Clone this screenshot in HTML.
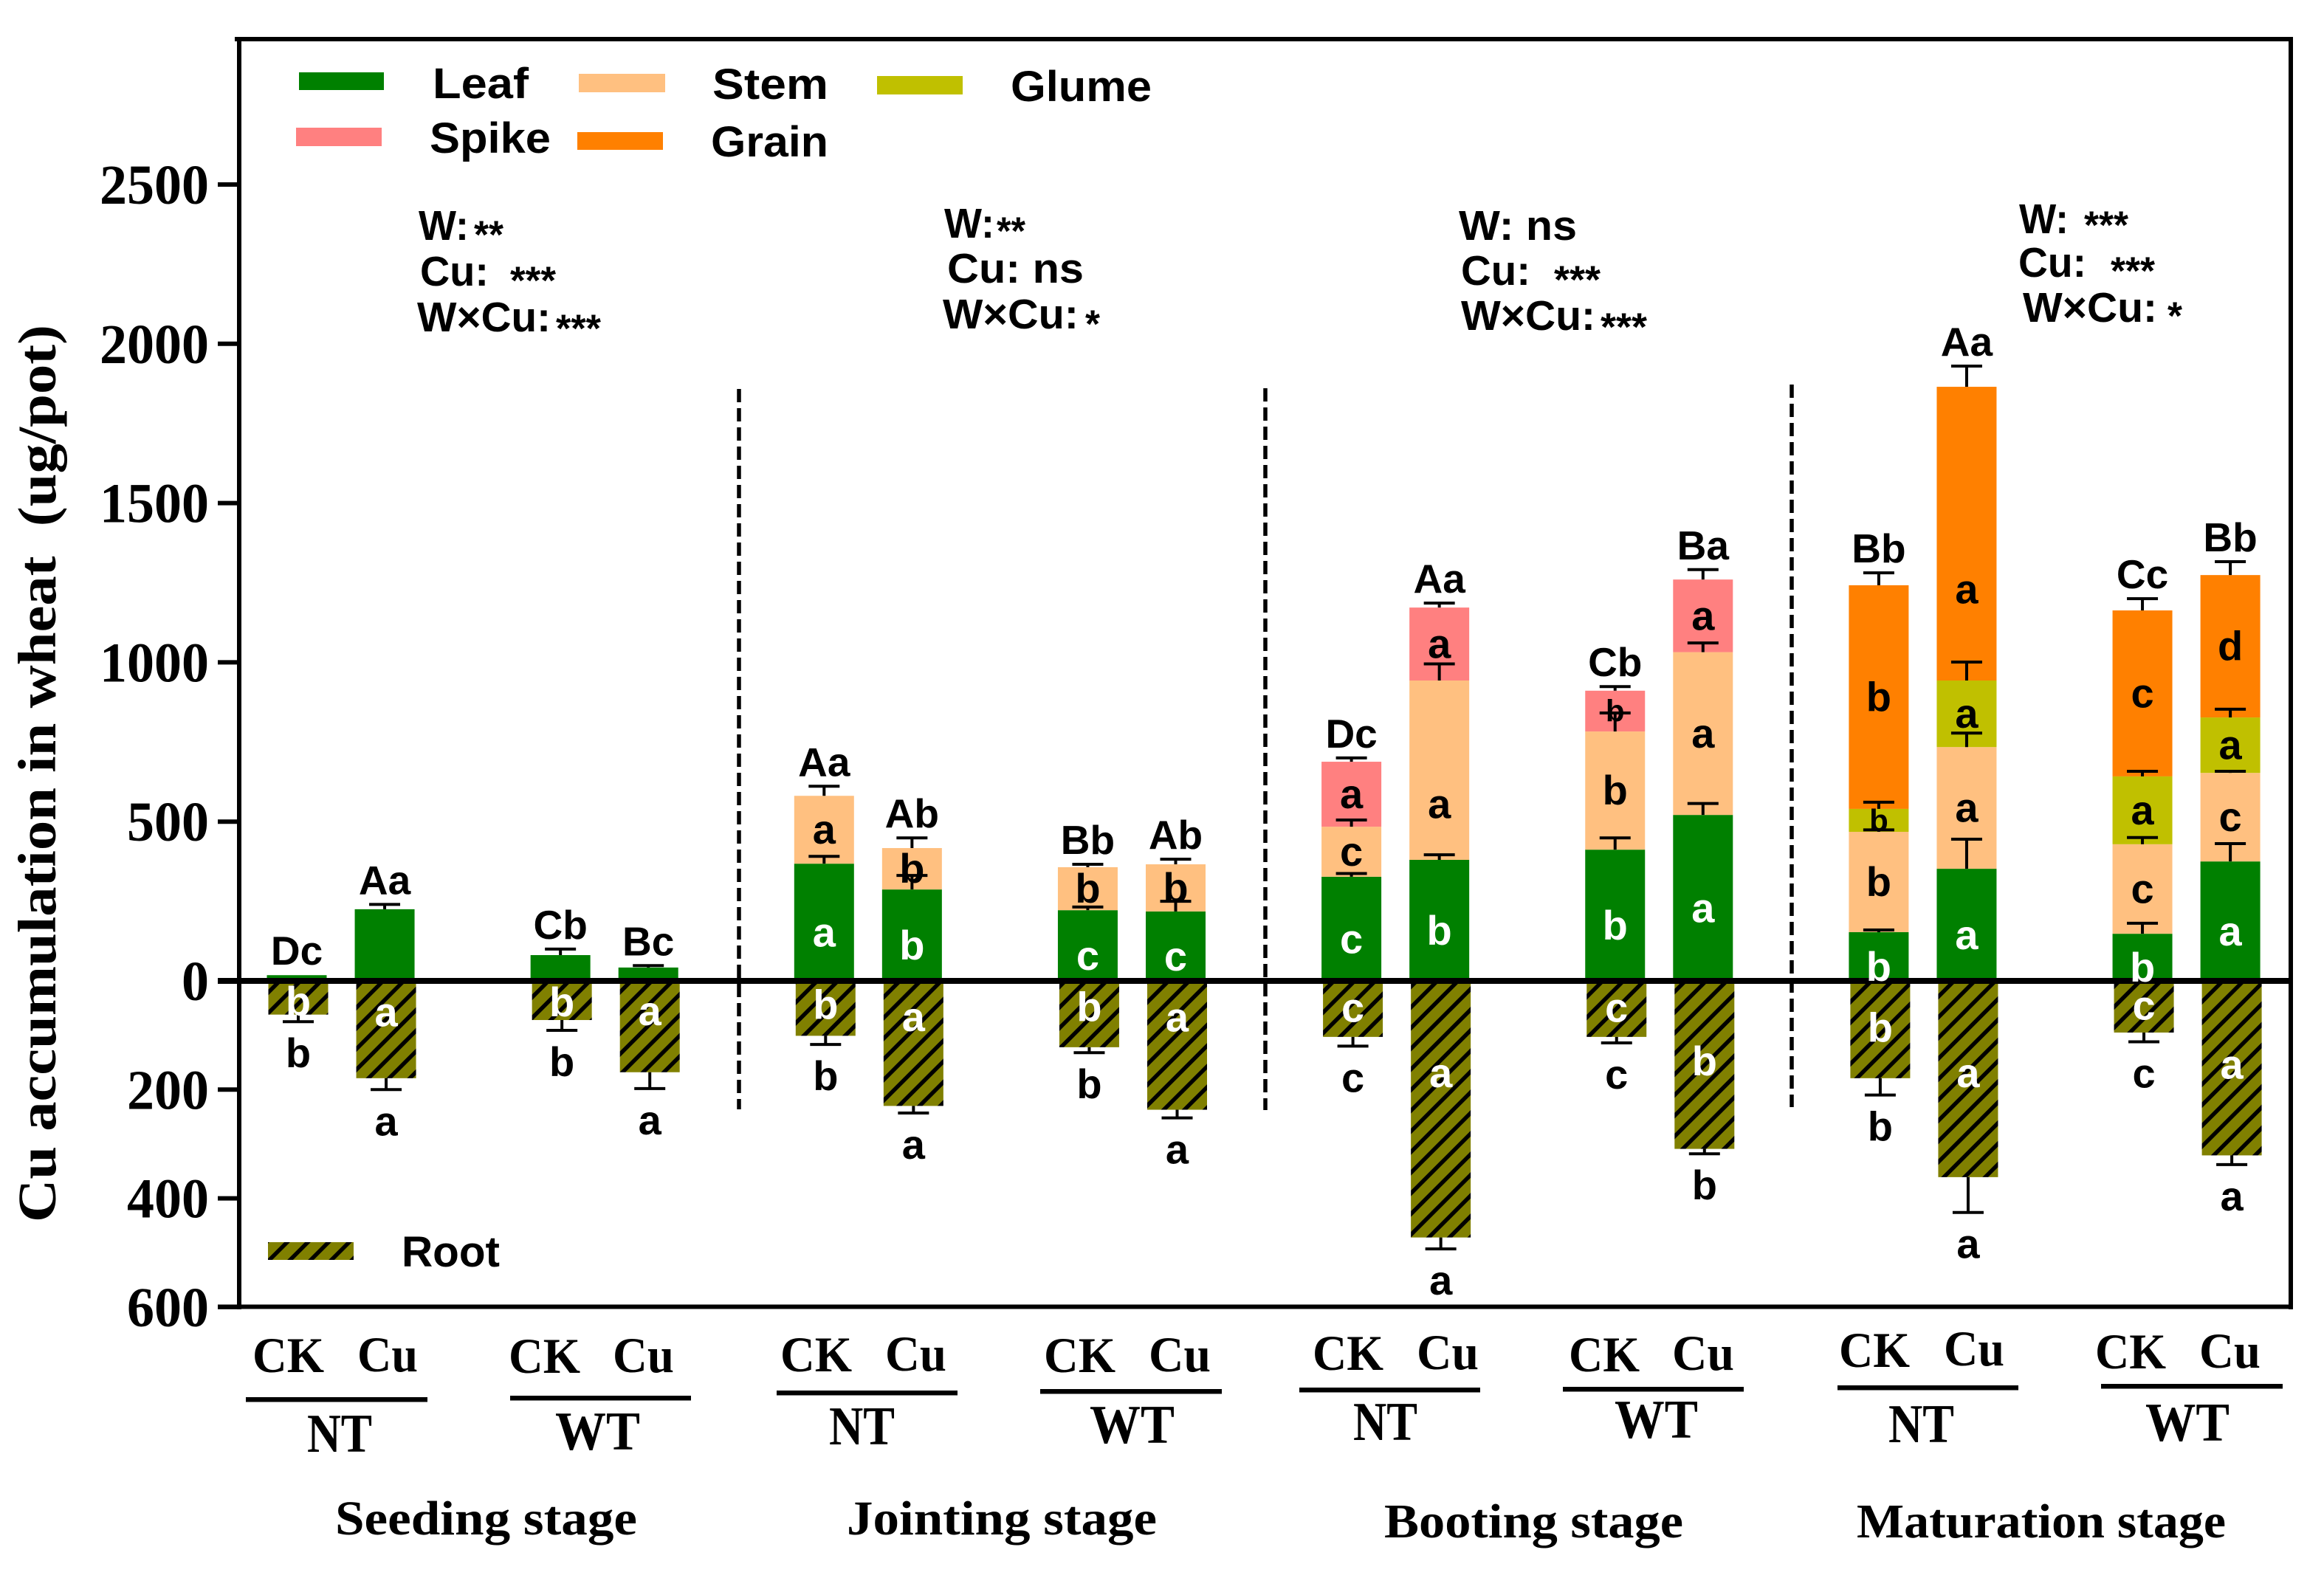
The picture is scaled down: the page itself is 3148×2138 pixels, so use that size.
<!DOCTYPE html>
<html lang="en">
<head>
<meta charset="utf-8">
<title>Cu accumulation in wheat</title>
<style>
html,body{margin:0;padding:0;background:#fff;}
svg{display:block;}
.sans{font-family:"Liberation Sans",sans-serif;font-weight:bold;fill:#000;}
.serif{font-family:"Liberation Serif",serif;font-weight:bold;fill:#000;}
.legend{font-size:58px;}
.stat{font-size:57px;}
.star{font-size:53px;}
.cat{font-size:68px;}
.trt{font-size:74px;}
.stage{font-size:66px;}
</style>
</head>
<body>
<svg id="chart" xmlns="http://www.w3.org/2000/svg" width="3148" height="2138" viewBox="0 0 3148 2138">
  <defs>
    <pattern id="hatch" patternUnits="userSpaceOnUse" width="28" height="28">
      <rect width="28" height="28" fill="#808000"/>
      <path d="M-7,7 L7,-7 M0,28 L28,0 M21,35 L35,21" stroke="#000" stroke-width="5.5" fill="none"/>
    </pattern>
  </defs>
  <rect width="3148" height="2138" fill="#fff"/>

  <g id="bars"></g>

  <g stroke="#000" stroke-width="5.5" stroke-dasharray="18 8">
    <line x1="1001" y1="527" x2="1001" y2="1503"/>
    <line x1="1714" y1="526" x2="1714" y2="1504"/>
    <line x1="2427" y1="521" x2="2427" y2="1500"/>
  </g>

  <g id="axes">
    <line x1="318" y1="53" x2="3106" y2="53" stroke="#000" stroke-width="6"/>
    <line x1="3103" y1="50" x2="3103" y2="1774" stroke="#000" stroke-width="6"/>
    <line x1="295" y1="1770.5" x2="3106" y2="1770.5" stroke="#000" stroke-width="6"/>
    <line x1="324" y1="50" x2="324" y2="1774" stroke="#000" stroke-width="6"/>
    <line x1="295" y1="1329" x2="3103" y2="1329" stroke="#000" stroke-width="8"/>
  </g>

  <g id="labels"></g>

  <text class="serif" font-size="73" transform="translate(75,1656) rotate(-90)" textLength="1216" lengthAdjust="spacingAndGlyphs" xml:space="preserve">Cu accumulation in wheat  (ug/pot)</text>

  <g>
    <rect x="405" y="98" width="115" height="24" fill="#008000"/>
    <text class="sans legend" x="586" y="133" textLength="130" lengthAdjust="spacingAndGlyphs">Leaf</text>
    <rect x="784" y="100" width="117" height="25" fill="#FFC080"/>
    <text class="sans legend" x="965" y="134" textLength="157" lengthAdjust="spacingAndGlyphs">Stem</text>
    <rect x="1188" y="103" width="116" height="25" fill="#C0C000"/>
    <text class="sans legend" x="1369" y="137" textLength="191" lengthAdjust="spacingAndGlyphs">Glume</text>
    <rect x="401" y="173" width="116" height="25" fill="#FF8080"/>
    <text class="sans legend" x="582" y="207" textLength="164" lengthAdjust="spacingAndGlyphs">Spike</text>
    <rect x="782" y="179" width="116" height="24" fill="#FF8000"/>
    <text class="sans legend" x="963" y="212" textLength="159" lengthAdjust="spacingAndGlyphs">Grain</text>
    <rect x="363" y="1683" width="116" height="24" fill="url(#hatch)"/>
    <text class="sans legend" x="544" y="1716" textLength="133" lengthAdjust="spacingAndGlyphs">Root</text>
  </g>

  <g>
    <text class="sans stat" x="567" y="325" textLength="68" lengthAdjust="spacingAndGlyphs">W:</text>
    <text class="sans star" x="642" y="336" textLength="40" lengthAdjust="spacingAndGlyphs">**</text>
    <text class="sans stat" x="569" y="387" textLength="93" lengthAdjust="spacingAndGlyphs">Cu:</text>
    <text class="sans star" x="691" y="398" textLength="62" lengthAdjust="spacingAndGlyphs">***</text>
    <text class="sans stat" x="565" y="449" textLength="181" lengthAdjust="spacingAndGlyphs">W×Cu:</text>
    <text class="sans star" x="753" y="463" textLength="61" lengthAdjust="spacingAndGlyphs">***</text>
  </g>
  <g>
    <text class="sans stat" x="1279" y="322" textLength="68" lengthAdjust="spacingAndGlyphs">W:</text>
    <text class="sans star" x="1350" y="331" textLength="39" lengthAdjust="spacingAndGlyphs">**</text>
    <text class="sans stat" x="1283" y="383" textLength="185" lengthAdjust="spacingAndGlyphs">Cu: ns</text>
    <text class="sans stat" x="1277" y="445" textLength="184" lengthAdjust="spacingAndGlyphs">W×Cu:</text>
    <text class="sans star" x="1470" y="457" textLength="20" lengthAdjust="spacingAndGlyphs">*</text>
  </g>
  <g>
    <text class="sans stat" x="1976" y="325" textLength="160" lengthAdjust="spacingAndGlyphs">W: ns</text>
    <text class="sans stat" x="1979" y="386" textLength="94" lengthAdjust="spacingAndGlyphs">Cu:</text>
    <text class="sans star" x="2105" y="397" textLength="63" lengthAdjust="spacingAndGlyphs">***</text>
    <text class="sans stat" x="1979" y="447" textLength="182" lengthAdjust="spacingAndGlyphs">W×Cu:</text>
    <text class="sans star" x="2168" y="461" textLength="63" lengthAdjust="spacingAndGlyphs">***</text>
  </g>
  <g>
    <text class="sans stat" x="2735" y="316" textLength="67" lengthAdjust="spacingAndGlyphs">W:</text>
    <text class="sans star" x="2823" y="323" textLength="60" lengthAdjust="spacingAndGlyphs">***</text>
    <text class="sans stat" x="2734" y="375" textLength="92" lengthAdjust="spacingAndGlyphs">Cu:</text>
    <text class="sans star" x="2859" y="385" textLength="60" lengthAdjust="spacingAndGlyphs">***</text>
    <text class="sans stat" x="2740" y="436" textLength="182" lengthAdjust="spacingAndGlyphs">W×Cu:</text>
    <text class="sans star" x="2936" y="446" textLength="20" lengthAdjust="spacingAndGlyphs">*</text>
  </g>

  <g>
    <text class="serif cat" x="342" y="1859" textLength="97" lengthAdjust="spacingAndGlyphs">CK</text>
    <text class="serif cat" x="484" y="1858" textLength="82" lengthAdjust="spacingAndGlyphs">Cu</text>
    <rect x="333" y="1893" width="246" height="6.5" fill="#000"/>
    <text class="serif trt" x="416" y="1967" textLength="88" lengthAdjust="spacingAndGlyphs">NT</text>
    <text class="serif cat" x="689" y="1860" textLength="97" lengthAdjust="spacingAndGlyphs">CK</text>
    <text class="serif cat" x="830" y="1859" textLength="83" lengthAdjust="spacingAndGlyphs">Cu</text>
    <rect x="691" y="1891" width="245" height="6.5" fill="#000"/>
    <text class="serif trt" x="752" y="1964" textLength="115" lengthAdjust="spacingAndGlyphs">WT</text>
    <text class="serif stage" x="454" y="2079" textLength="409" lengthAdjust="spacingAndGlyphs">Seeding stage</text>

    <text class="serif cat" x="1057" y="1858" textLength="97" lengthAdjust="spacingAndGlyphs">CK</text>
    <text class="serif cat" x="1199" y="1857" textLength="83" lengthAdjust="spacingAndGlyphs">Cu</text>
    <rect x="1052" y="1884" width="245" height="6.5" fill="#000"/>
    <text class="serif trt" x="1123" y="1957" textLength="89" lengthAdjust="spacingAndGlyphs">NT</text>
    <text class="serif cat" x="1414" y="1859" textLength="97" lengthAdjust="spacingAndGlyphs">CK</text>
    <text class="serif cat" x="1556" y="1858" textLength="84" lengthAdjust="spacingAndGlyphs">Cu</text>
    <rect x="1409" y="1882" width="246" height="6.5" fill="#000"/>
    <text class="serif trt" x="1476" y="1955" textLength="115" lengthAdjust="spacingAndGlyphs">WT</text>
    <text class="serif stage" x="1147" y="2079" textLength="420" lengthAdjust="spacingAndGlyphs">Jointing stage</text>

    <text class="serif cat" x="1778" y="1856" textLength="96" lengthAdjust="spacingAndGlyphs">CK</text>
    <text class="serif cat" x="1919" y="1855" textLength="84" lengthAdjust="spacingAndGlyphs">Cu</text>
    <rect x="1760" y="1880" width="245" height="6.5" fill="#000"/>
    <text class="serif trt" x="1833" y="1951" textLength="87" lengthAdjust="spacingAndGlyphs">NT</text>
    <text class="serif cat" x="2125" y="1858" textLength="96" lengthAdjust="spacingAndGlyphs">CK</text>
    <text class="serif cat" x="2265" y="1856" textLength="84" lengthAdjust="spacingAndGlyphs">Cu</text>
    <rect x="2117" y="1879" width="245" height="6.5" fill="#000"/>
    <text class="serif trt" x="2187" y="1948" textLength="113" lengthAdjust="spacingAndGlyphs">WT</text>
    <text class="serif stage" x="1875" y="2083" textLength="405" lengthAdjust="spacingAndGlyphs">Booting stage</text>

    <text class="serif cat" x="2491" y="1852" textLength="96" lengthAdjust="spacingAndGlyphs">CK</text>
    <text class="serif cat" x="2633" y="1850" textLength="82" lengthAdjust="spacingAndGlyphs">Cu</text>
    <rect x="2489" y="1877" width="245" height="6.5" fill="#000"/>
    <text class="serif trt" x="2558" y="1954" textLength="89" lengthAdjust="spacingAndGlyphs">NT</text>
    <text class="serif cat" x="2838" y="1854" textLength="96" lengthAdjust="spacingAndGlyphs">CK</text>
    <text class="serif cat" x="2979" y="1853" textLength="83" lengthAdjust="spacingAndGlyphs">Cu</text>
    <rect x="2846" y="1875" width="246" height="6.5" fill="#000"/>
    <text class="serif trt" x="2906" y="1952" textLength="114" lengthAdjust="spacingAndGlyphs">WT</text>
    <text class="serif stage" x="2515" y="2083" textLength="500" lengthAdjust="spacingAndGlyphs">Maturation stage</text>
  </g>
</svg>

<script>
const categories = [
  'seeding-nt-ck','seeding-nt-cu','seeding-wt-ck','seeding-wt-cu',
  'jointing-nt-ck','jointing-nt-cu','jointing-wt-ck','jointing-wt-cu',
  'booting-nt-ck','booting-nt-cu','booting-wt-ck','booting-wt-cu',
  'maturation-nt-ck','maturation-nt-cu','maturation-wt-ck','maturation-wt-cu'
];
const leafValues  = [18,225,81,42, 368,287,222,218, 327,380,412,521, 153,352,148,375];
const stemValues  = [0,0,0,0, 213,130,135,148, 157,563,371,511, 315,382,281,278];
const spikeValues = [0,0,0,0, 0,0,0,0, 204,229,128,228, 0,0,0,0];
const glumeValues = [0,0,0,0, 0,0,0,0, 0,0,0,0, 72,209,213,174];
const grainValues = [0,0,0,0, 0,0,0,0, 0,0,0,0, 702,922,521,447];
const rootValues  = [62,179,72,168, 101,230,122,237, 103,472,103,309, 179,361,95,321];

const leafErrors  = [0,15,19,6, 23,44,10,32, 10,16,37,36, 7,93,33,56];
const stemErrors  = [0,0,0,0, 30,32,9,16, 21,52,58,29, 6,44,21,5];
const spikeErrors = [0,0,0,0, 0,0,0,0, 12,14,13,31, 0,0,0,0];
const glumeErrors = [0,0,0,0, 0,0,0,0, 0,0,0,0, 21,58,16,26];
const grainErrors = [0,0,0,0, 0,0,0,0, 0,0,0,0, 39,65,37,42];
const rootErrors  = [13,21,19,30, 16,13,10,15, 17,21,11,9, 31,65,17,17];

const totalLetters = ['Dc','Aa','Cb','Bc','Aa','Ab','Bb','Ab','Dc','Aa','Cb','Ba','Bb','Aa','Cc','Bb'];
const leafLetters  = ['','','','', 'a','b','c','c', 'c','b','b','a', 'b','a','b','a'];
const stemLetters  = ['','','','', 'a','b','b','b', 'c','a','b','a', 'b','a','c','c'];
const spikeLetters = ['','','','', '','','','', 'a','a','b','a', '','','',''];
const glumeLetters = ['','','','', '','','','', '','','','', 'b','a','a','a'];
const grainLetters = ['','','','', '','','','', '','','','', 'b','a','c','d'];
const rootInnerLetters = ['b','a','b','a', 'b','a','b','a', 'c','a','c','b', 'b','a','c','a'];
const rootBelowLetters = ['b','a','b','a', 'b','a','b','a', 'c','a','c','b', 'b','a','c','a'];

const upTicks = [0,500,1000,1500,2000,2500];
const downTicks = [200,400,600];

const NS = 'http://www.w3.org/2000/svg';
const ZERO_Y = 1329;
const BAR_W = 81;
function yUp(v){ return ZERO_Y - v * 0.4316; }
function yDown(v){ return ZERO_Y + v * 0.7365; }
function xCenter(i){ return 402 + 119.05 * (i + Math.floor(i / 2)); }

function make(tag, attrs, parent){
  const el = document.createElementNS(NS, tag);
  for (const k in attrs) el.setAttribute(k, attrs[k]);
  parent.appendChild(el);
  return el;
}

const barsLayer = document.getElementById('bars');
const labelsLayer = document.getElementById('labels');
const axesLayer = document.getElementById('axes');

function drawError(cx, yFrom, yTo, name){
  const g = make('g', {stroke:'#000','stroke-width':4}, barsLayer);
  
  
  make('line', {x1:cx, x2:cx, y1:yFrom, y2:yTo}, g);
  make('line', {x1:cx-21, x2:cx+21, y1:yTo, y2:yTo}, g);
}

function drawLetter(text, x, y, size, fill, name){
  const t = make('text', {x:x, y:y, 'text-anchor':'middle', 'font-size':size, fill:fill,
    'font-family':'"Liberation Sans", sans-serif', 'font-weight':'bold'}, labelsLayer);
  t.textContent = text;
  
  
}

const stackNames = ['leaf','stem','spike','glume','grain'];
const stackValues = [leafValues, stemValues, spikeValues, glumeValues, grainValues];
const stackErrors = [leafErrors, stemErrors, spikeErrors, glumeErrors, grainErrors];
const stackLetters = [leafLetters, stemLetters, spikeLetters, glumeLetters, grainLetters];
const stackColors = ['#008000','#FFC080','#FF8080','#C0C000','#FF8000'];
const stackText = ['#fff','#000','#000','#000','#000'];

const errorQueue = [];
categories.forEach(function(cat, i){
  const cx = xCenter(i);
  let base = 0, topCap = 0;
  stackNames.forEach(function(series, s){
    const v = stackValues[s][i];
    if (!v) return;
    const top = base + v;
    const rect = make('rect', {x:cx-BAR_W/2, y:yUp(top), width:BAR_W, height:yUp(base)-yUp(top), fill:stackColors[s]}, barsLayer);
    
    
    const e = stackErrors[s][i];
    if (e) errorQueue.push([cx, yUp(top), yUp(top + e), series + '-error-' + cat]);
    topCap = Math.max(topCap, top + e);
    const letter = stackLetters[s][i];
    if (letter) {
      const h = yUp(base) - yUp(top);
      const size = h < 56 ? 42 : 56;
      const frac = (h > 240 && i % 2 === 1) ? 0.69 : 0.5;
      const pos = yUp(top) + h * frac + (s === 0 ? 14 : 0);
      drawLetter(letter, cx, pos + size * 0.34, size, stackText[s], series + '-letter-' + cat);
    }
    base = top;
  });
  drawLetter(totalLetters[i], cx, yUp(topCap) - 14, 55, '#000', 'total-letter-' + cat);

  const rx = cx + 2;
  const rv = rootValues[i], re = rootErrors[i];
  const rootRect = make('rect', {x:rx-BAR_W/2, y:ZERO_Y, width:BAR_W, height:yDown(rv)-ZERO_Y, fill:'url(#hatch)'}, barsLayer);
  
  
  errorQueue.push([rx, yDown(rv), yDown(rv + re), 'root-error-' + cat]);
  const depth = yDown(rv) - ZERO_Y;
  const innerOffset = i < 8 ? 20 + depth * 0.17 : Math.min(125, depth * 0.48);
  drawLetter(rootInnerLetters[i], rx, ZERO_Y + innerOffset + 19, 56, '#fff', 'root-inner-letter-' + cat);
  drawLetter(rootBelowLetters[i], rx, yDown(rv + re) + 62, 56, '#000', 'root-below-letter-' + cat);
});
errorQueue.forEach(function(e){ drawError(e[0], e[1], e[2], e[3]); });

function drawTick(y, label, name){
  const tick = make('line', {x1:295, x2:324, y1:y, y2:y, stroke:'#000', 'stroke-width':6}, axesLayer);
  
  
  const str = String(label);
  const t = make('text', {x:283 - str.length * 37, y:y + 26, 'font-size':76,
    textLength:str.length * 37, lengthAdjust:'spacingAndGlyphs',
    'font-family':'"Liberation Serif", serif', 'font-weight':'bold', fill:'#000'}, axesLayer);
  t.textContent = str;
  
  
}
upTicks.forEach(function(v){ drawTick(yUp(v), v, 'y-' + v); });
downTicks.forEach(function(v){ drawTick(yDown(v), v, 'y-neg-' + v); });
</script>
</body>
</html>
